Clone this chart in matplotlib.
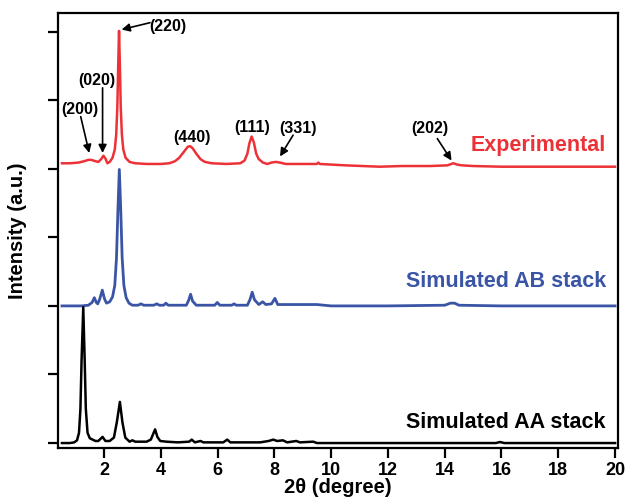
import matplotlib
matplotlib.use("Agg")
from matplotlib import pyplot as plt

plt.rcParams["font.family"] = ["Liberation Sans", "DejaVu Sans"]
plt.rcParams["font.weight"] = "bold"

# 2theta / intensity points, curves offset by stacking
exp_x = [0.52, 0.8, 1.1, 1.3, 1.45, 1.55, 1.7, 1.8, 1.9, 1.98, 2.05, 2.12, 2.2, 2.3,
         2.38, 2.43, 2.47, 2.5, 2.53, 2.56, 2.59, 2.63, 2.68, 2.76, 2.9, 3.1, 3.5,
         4.0, 4.3, 4.5, 4.65, 4.8, 4.95, 5.03, 5.12, 5.25, 5.4, 5.55, 5.8, 6.3, 6.8,
         6.95, 7.05, 7.12, 7.2, 7.28, 7.36, 7.45, 7.6, 7.75, 7.9, 8.05, 8.2, 8.4,
         9.0, 9.5, 9.55, 9.6, 10.5, 11.7, 12.5, 13.5, 14.1, 14.3, 14.45, 14.6, 15.0,
         16.0, 18.0, 20.0]
exp_y = [4.08, 4.08, 4.09, 4.11, 4.13, 4.13, 4.11, 4.10, 4.14, 4.19, 4.15, 4.08, 4.10, 4.16,
         4.28, 4.50, 4.90, 5.50, 6.01, 5.50, 4.90, 4.50, 4.28, 4.16, 4.10, 4.08, 4.07,
         4.07, 4.08, 4.11, 4.16, 4.24, 4.32, 4.33, 4.30, 4.22, 4.14, 4.10, 4.08, 4.07, 4.08,
         4.12, 4.22, 4.37, 4.47, 4.38, 4.22, 4.14, 4.09, 4.07, 4.09, 4.10, 4.09, 4.07,
         4.07, 4.07, 4.09, 4.07, 4.05, 4.03, 4.04, 4.04, 4.05, 4.08, 4.06, 4.05, 4.04,
         4.03, 4.03, 4.03]

ab_x = [0.52, 1.2, 1.45, 1.58, 1.66, 1.73, 1.78, 1.85, 1.94, 2.02, 2.09, 2.2, 2.3, 2.38,
        2.44, 2.49, 2.54, 2.59, 2.64, 2.7, 2.78, 2.88, 3.0, 3.2, 3.3, 3.4, 3.75, 3.86,
        3.95, 4.1, 4.18, 4.26, 4.9, 4.98, 5.05, 5.12, 5.25, 5.9, 5.99, 6.08, 6.5, 6.58,
        6.66, 7.05, 7.14, 7.22, 7.3, 7.45, 7.59, 7.7, 7.9, 8.02, 8.12, 8.4, 8.8, 9.5,
        10.0, 12.0, 14.0, 14.2, 14.35, 14.5, 16.0, 18.0, 20.0]
ab_y = [2.00, 2.00, 2.01, 2.05, 2.12, 2.05, 2.03, 2.10, 2.23, 2.10, 2.04, 2.06, 2.13, 2.30,
        2.70, 3.40, 3.99, 3.40, 2.70, 2.30, 2.12, 2.04, 2.01, 2.01, 2.03, 2.01, 2.01, 2.03,
        2.01, 2.01, 2.04, 2.01, 2.01, 2.08, 2.17, 2.07, 2.01, 2.01, 2.05, 2.01, 2.01, 2.03,
        2.01, 2.01, 2.09, 2.20, 2.09, 2.02, 2.06, 2.02, 2.03, 2.11, 2.02, 2.02, 2.02, 2.02,
        2.00, 2.00, 2.01, 2.04, 2.04, 2.01, 2.00, 2.00, 2.00]

aa_x = [0.52, 0.8, 0.95, 1.05, 1.12, 1.17, 1.21, 1.27, 1.32, 1.36, 1.42, 1.5, 1.6, 1.7,
        1.8, 1.95, 2.05, 2.2, 2.35, 2.45, 2.56, 2.65, 2.75, 2.9, 3.0, 3.1, 3.5, 3.65,
        3.72, 3.8, 3.88, 3.98, 4.2, 4.6, 5.0, 5.09, 5.2, 5.4, 5.5, 6.2, 6.34, 6.45, 7.5,
        7.8, 7.96, 8.1, 8.3, 8.45, 8.77, 8.9, 9.37, 9.5, 12.0, 15.8, 15.95, 16.1, 20.0]
aa_y = [0.00, 0.00, 0.01, 0.04, 0.15, 0.50, 1.20, 1.98, 1.20, 0.50, 0.15, 0.07, 0.05, 0.03,
        0.03, 0.09, 0.03, 0.03, 0.08, 0.30, 0.60, 0.30, 0.08, 0.02, 0.04, 0.02, 0.02, 0.05,
        0.12, 0.20, 0.09, 0.03, 0.02, 0.01, 0.02, 0.05, 0.01, 0.03, 0.01, 0.01, 0.05, 0.01, 0.01,
        0.03, 0.05, 0.03, 0.04, 0.01, 0.03, 0.01, 0.02, 0.00, 0.00, 0.00, 0.015, 0.00, 0.00]

red = "#ed3237"
blue = "#3a55a5"

fig = plt.figure(figsize=(6.27, 5.04), dpi=100)
ax = fig.add_axes([0.0925, 0.111, 0.893, 0.863])

ax.plot(exp_x, exp_y, color=red, lw=1.8)
ax.plot(ab_x, ab_y, color=blue, lw=2.0)
ax.plot(aa_x, aa_y, color="black", lw=1.8)

ax.set_xlim(0.38, 20.1)
ax.set_ylim(-0.073, 6.27)
ax.set_xticks(range(2, 21, 2))
ax.set_yticks(range(0, 7))
ax.set_yticklabels([])
ax.tick_params(direction="out", length=7, width=1.6, labelsize=13, pad=3)
for s in ax.spines.values():
    s.set_linewidth(1.6)
ax.set_xlabel("2θ (degree)", fontsize=14.5, fontweight="bold", labelpad=-1)
ax.set_ylabel("Intensity (a.u.)", fontsize=14.5, fontweight="bold", labelpad=12)

ax.text(19.68, 4.26, "Experimental", color=red, fontsize=15.5, fontweight="bold", ha="right", va="baseline")
ax.text(19.68, 2.28, "Simulated AB stack", color=blue, fontsize=15.5, fontweight="bold", ha="right", va="baseline")
ax.text(19.68, 0.214, "Simulated AA stack", color="black", fontsize=15.5, fontweight="bold", ha="right", va="baseline")

# peak labels: (text, text pos, arrow tail, arrow head)
peak_labels = ["(220)", "(200)", "(020)", "(440)", "(111)", "(331)", "(202)"]
label_pos = [(4.25, 6.07), (1.155, 4.87), (1.76, 5.28), (5.09, 4.45), (7.22, 4.60), (8.84, 4.59), (13.48, 4.59)]
arrow_from = [(3.62, 6.13), (1.18, 4.76), (1.95, 5.18), None, None, (8.66, 4.49), (13.74, 4.44)]
arrow_to = [(2.62, 6.03), (1.48, 4.23), (1.95, 4.23), None, None, (8.2, 4.18), (14.24, 4.12)]

for lab, pos, a, b in zip(peak_labels, label_pos, arrow_from, arrow_to):
    ax.text(pos[0], pos[1], lab, fontsize=11.5, fontweight="bold", ha="center", va="center")
    if a is not None:
        ax.annotate("", xy=b, xytext=a,
                    arrowprops=dict(arrowstyle="-|>", color="black", lw=1.2,
                                    mutation_scale=12, shrinkA=0, shrinkB=0))

plt.savefig("out.png", dpi=100)
